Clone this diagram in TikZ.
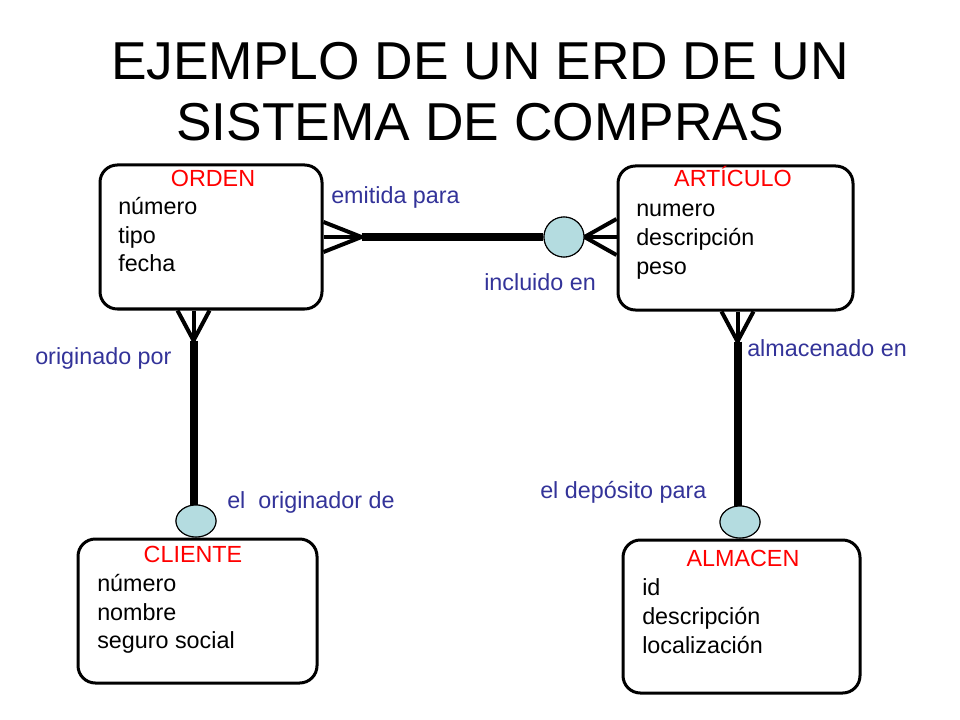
\documentclass[tikz,border=0pt]{standalone}
\usepackage{fontspec}
\setmainfont{Liberation Sans}
\usetikzlibrary{calc,shapes.geometric}
\definecolor{lblblue}{RGB}{51,51,153}
\definecolor{cfill}{RGB}{180,220,224}
\begin{document}
\begin{tikzpicture}[x=0.75pt,y=-0.75pt,
  entity/.style={draw,line width=2.25pt,rounded corners=13pt,inner sep=0pt},
  maintitle/.style={font=\fontsize{40}{48}\selectfont,inner sep=0pt,anchor=base},
  ttl/.style={text=red,font=\fontsize{17.5}{21}\selectfont,inner sep=0pt,anchor=base},
  attr/.style={font=\fontsize{17.5}{21}\selectfont,inner sep=0pt,anchor=base west},
  lbl/.style={text=lblblue,font=\fontsize{17.5}{21}\selectfont,inner sep=0pt,anchor=base west},
  rel/.style={line width=6pt},
  prong/.style={line width=3pt},
  optc/.style={draw,line width=0.8pt,fill=cfill,inner sep=0pt}
]
\useasboundingbox (0,0) rectangle (960,720);

% title
\node[maintitle] (tl1) at (480,80) {EJEMPLO DE UN ERD DE UN};
\node[maintitle] (tl2) at (480,141) {SISTEMA DE COMPRAS};

% entities
\node[entity,minimum width=166.5pt,minimum height=108pt] (orden) at (211,237) {};
\node[entity,minimum width=176.25pt,minimum height=108pt] (artic) at (735.5,238) {};
\node[entity,minimum width=179.25pt,minimum height=108pt] (cliente) at (197.5,611) {};
\node[entity,minimum width=177.75pt,minimum height=114.75pt] (almacen) at (741.5,616.5) {};

% entity texts
\node[ttl] (ordenT) at (213,187) {ORDEN};
\node[attr] (o1) at (118,215) {número};
\node[attr] (o2) at (118,243.5) {tipo};
\node[attr] (o3) at (118,272) {fecha};

\node[ttl] (articT) at (733,187) {ARTÍCULO};
\node[attr] (a1) at (636,217) {numero};
\node[attr] (a2) at (636,246) {descripción};
\node[attr] (a3) at (636,275) {peso};

\node[ttl] (clienteT) at (193,562) {CLIENTE};
\node[attr] (c1t) at (97,591) {número};
\node[attr] (c2t) at (97,620) {nombre};
\node[attr] (c3t) at (97,648) {seguro social};

\node[ttl] (almacenT) at (743,566) {ALMACEN};
\node[attr] (m1) at (642,595) {id};
\node[attr] (m2) at (642,624) {descripción};
\node[attr] (m3) at (642,653) {localización};

% optionality circles
\node[optc,circle,minimum size=30pt] (cA) at (564,237) {};
\node[optc,ellipse,minimum width=30pt,minimum height=24pt] (cB) at (196,521) {};
\node[optc,ellipse,minimum width=30pt,minimum height=24pt] (cC) at (740,522) {};

% ORDEN -- ARTICULO
\coordinate (oE) at (orden.east |- cA);
\coordinate (tipA) at ($(oE)+(38,0)$);
\draw[prong] ($(oE)+(0,-15)$) -- (tipA);
\draw[prong] (oE) -- (tipA);
\draw[prong] ($(oE)+(0,15)$) -- (tipA);
\draw[rel] (tipA) -- (cA.west);
\coordinate (aW) at (artic.west |- cA);
\draw[prong] (cA.east) -- ($(aW)+(0,-18)$);
\draw[prong] (cA.east) -- (aW);
\draw[prong] (cA.east) -- ($(aW)+(0,18)$);
\node[optc,circle,minimum size=30pt] at (cA) {};

% ORDEN -- CLIENTE
\coordinate (oS) at ($(orden.south west)+(95,0)$);
\coordinate (tipB) at ($(oS)+(0,30)$);
\draw[prong] ($(oS)+(-16,0)$) -- (tipB);
\draw[prong] (oS) -- (tipB);
\draw[prong] ($(oS)+(16,0)$) -- (tipB);
\draw[rel] (tipB) -- (tipB |- cB.center);
\node[optc,ellipse,minimum width=30pt,minimum height=24pt] at (cB) {};

% ARTICULO -- ALMACEN
\coordinate (aS) at ($(artic.south west)+(121,0)$);
\coordinate (tipC) at ($(aS)+(0,30)$);
\draw[prong] ($(aS)+(-16,0)$) -- (tipC);
\draw[prong] (aS) -- (tipC);
\draw[prong] ($(aS)+(16,0)$) -- (tipC);
\draw[rel] (tipC) -- (tipC |- cC.center);
\node[optc,ellipse,minimum width=30pt,minimum height=24pt] at (cC) {};

% relationship labels
\node[lbl] (l1) at (331,204) {emitida para};
\node[lbl] (l2) at (484,291) {incluido en};
\node[lbl] (l3) at (35,364) {originado por};
\node[lbl] (l4) at (747,356) {almacenado en};
\node[lbl] (l5) at (227,508) {el\ \ originador de};
\node[lbl] (l6) at (540,498) {el depósito para};
\end{tikzpicture}
\end{document}
